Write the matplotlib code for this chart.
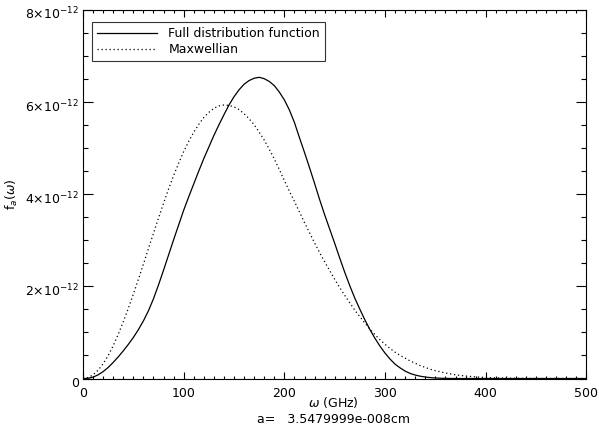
import numpy as np
import matplotlib
matplotlib.use('Agg')
import matplotlib.pyplot as plt
from matplotlib.ticker import MultipleLocator, FixedLocator, FuncFormatter
from matplotlib.transforms import ScaledTranslation

# frekans ekseni (GHz), 5 GHz adim
omega = np.arange(0, 505, 5)

# tam dagilim fonksiyonu (x1e-12), 0..365 GHz, sonrasi sifir
full = [0.00, 0.005, 0.03, 0.08, 0.15, 0.24, 0.35, 0.47, 0.60, 0.74,
        0.89, 1.06, 1.25, 1.47, 1.73, 2.03, 2.35, 2.68, 3.01, 3.33,
        3.65, 3.94, 4.22, 4.50, 4.77, 5.02, 5.27, 5.50, 5.72, 5.93,
        6.11, 6.26, 6.38, 6.46, 6.51, 6.53, 6.50, 6.44, 6.35, 6.21,
        6.04, 5.82, 5.55, 5.22, 4.90, 4.57, 4.23, 3.88, 3.55, 3.24,
        2.93, 2.61, 2.30, 2.01, 1.74, 1.50, 1.27, 1.06, 0.87, 0.70,
        0.55, 0.42, 0.31, 0.23, 0.16, 0.11, 0.075, 0.05, 0.032, 0.02,
        0.012, 0.006, 0.003, 0.001]

# Maxwell dagilimi (x1e-12), 0..450 GHz, sonrasi sifir
maxw = [0.00, 0.02, 0.08, 0.18, 0.32, 0.50, 0.71, 0.96, 1.23, 1.52,
        1.83, 2.15, 2.48, 2.82, 3.15, 3.48, 3.80, 4.11, 4.40, 4.67,
        4.92, 5.14, 5.34, 5.51, 5.66, 5.77, 5.86, 5.91, 5.93, 5.92,
        5.89, 5.83, 5.74, 5.63, 5.50, 5.34, 5.17, 4.97, 4.76, 4.53,
        4.29, 4.06, 3.84, 3.61, 3.38, 3.16, 2.94, 2.73, 2.53, 2.34,
        2.15, 1.97, 1.80, 1.64, 1.48, 1.34, 1.20, 1.07, 0.95, 0.84,
        0.74, 0.65, 0.57, 0.50, 0.44, 0.38, 0.33, 0.28, 0.24, 0.20,
        0.17, 0.145, 0.12, 0.10, 0.08, 0.066, 0.054, 0.044, 0.035, 0.028,
        0.022, 0.017, 0.013, 0.010, 0.008, 0.006, 0.004, 0.003, 0.002, 0.0015,
        0.001]

full = full + [0.0] * (len(omega) - len(full))
maxw = maxw + [0.0] * (len(omega) - len(maxw))
full = np.array(full) * 1e-12
maxw = np.array(maxw) * 1e-12

y_ticks = [0, 2e-12, 4e-12, 6e-12, 8e-12]

fig = plt.figure(figsize=(5.99, 4.32), dpi=100)
ax = fig.add_axes([0.1386, 0.1238, 0.8404, 0.8542])

ax.plot(omega, full, color='black', lw=0.9, label='Full distribution function')
ax.plot(omega, maxw, color='black', lw=0.9, linestyle=(0, (1, 2.2)), label='Maxwellian')

ax.set_xlim(0, 500)
ax.set_ylim(0, 8e-12)

ax.xaxis.set_major_locator(FixedLocator([0, 100, 200, 300, 400, 500]))
ax.xaxis.set_minor_locator(MultipleLocator(10))
ax.yaxis.set_major_locator(FixedLocator(y_ticks))
ax.yaxis.set_minor_locator(MultipleLocator(0.5e-12))


def yfmt(v, pos):
    n = int(round(v / 1e-12))
    if n == 0:
        return '0'
    return r'$%d{\times}10^{-12}$' % n


ax.yaxis.set_major_formatter(FuncFormatter(yfmt))

ax.tick_params(which='both', direction='in', top=True, right=True, labelsize=9, width=0.8)
ax.tick_params(axis='x', which='major', length=5, pad=6)
ax.tick_params(axis='x', which='minor', length=2.5)
ax.tick_params(axis='y', which='major', length=7.2, pad=3)
ax.tick_params(axis='y', which='minor', length=3.6)
for s in ax.spines.values():
    s.set_linewidth(0.8)

# y etiketlerini biraz asagi kaydir
off = ScaledTranslation(0, -2.5 / 72, fig.dpi_scale_trans)
for lab in ax.get_yticklabels():
    lab.set_transform(lab.get_transform() + off)

ax.set_ylabel(r'f$_a$($\omega$)', fontsize=9)
ax.yaxis.set_label_coords(-0.125, 0.5)

fig.text(0.557, 0.068, r'$\omega$ (GHz)', ha='center', va='center', fontsize=9)
fig.text(0.557, 0.028, 'a=   3.5479999e-008cm', ha='center', va='center', fontsize=9)

leg = ax.legend(loc='upper left', bbox_to_anchor=(0.018, 0.966), borderaxespad=0,
                fontsize=9, frameon=True, fancybox=False, handlelength=4.8,
                handletextpad=0.9, labelspacing=0.25, borderpad=0.4)
leg.get_frame().set_edgecolor('black')
leg.get_frame().set_linewidth(0.8)

fig.savefig('out.png', dpi=100)
